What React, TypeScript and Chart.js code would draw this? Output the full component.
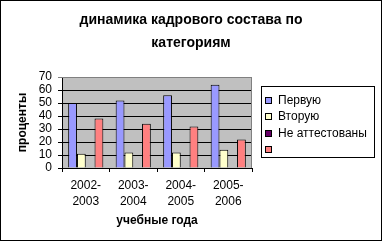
import React, { useEffect, useRef } from "react";
import { Chart, registerables } from "chart.js";

Chart.register(...registerables);

const categories: string[][] = [
  ["2002-", "2003"],
  ["2003-", "2004"],
  ["2004-", "2005"],
  ["2005-", "2006"],
];
const seriesLabels = ["Первую", "Вторую", "Не аттестованы", ""];
const firstCategory = [50, 52, 56, 64];
const secondCategory = [11, 12, 12, 14];
const notCertified = [0, 0, 0, 0];
const fourthSeries = [38, 34, 32, 22];
const seriesColors = ["#9999FF", "#FFFFCC", "#660066", "#FF8080"];
const titleLines = ["динамика кадрового состава по", "категориям"];
const yAxisTitle = "проценты";
const xAxisTitle = "учебные года";
const yMin = 0;
const yMax = 70;
const yStep = 10;

const FONT = "'Liberation Sans', Arial, sans-serif";

const gridColorFor = (value: number) => (value === yMax ? "#808080" : "#000000");

const decorPlugin = {
  id: "decor",
  beforeDraw(chart: any) {
    const { ctx, chartArea, width, height } = chart;
    ctx.save();
    ctx.fillStyle = "#FFFFFF";
    ctx.fillRect(0, 0, width, height);
    ctx.fillStyle = "#C0C0C0";
    ctx.fillRect(
      chartArea.left,
      chartArea.top,
      chartArea.right - chartArea.left,
      chartArea.bottom - chartArea.top
    );
    ctx.restore();
  },
  beforeDatasetsDraw(chart: any) {
    // reinforce horizontal gridlines at the y scale's own tick positions
    const { ctx, chartArea } = chart;
    const ys = chart.scales.y;
    ctx.save();
    ctx.lineWidth = 1;
    ys.ticks.forEach((t: any) => {
      const py = Math.round(ys.getPixelForValue(t.value) - 0.5) + 0.5;
      ctx.strokeStyle = gridColorFor(t.value);
      ctx.beginPath();
      ctx.moveTo(chartArea.left, py);
      ctx.lineTo(chartArea.right, py);
      ctx.stroke();
    });
    ctx.strokeStyle = "#808080";
    ctx.beginPath();
    ctx.moveTo(Math.round(chartArea.right) - 0.5, chartArea.top);
    ctx.lineTo(Math.round(chartArea.right) - 0.5, chartArea.bottom);
    ctx.stroke();
    ctx.restore();
  },
  afterDraw(chart: any) {
    const { ctx, chartArea, width, height } = chart;
    ctx.save();
    const lx = Math.round(chartArea.right) + 9;
    const ly = 86;
    const lw = 113;
    const lh = 71;
    ctx.fillStyle = "#FFFFFF";
    ctx.fillRect(lx, ly, lw, lh);
    ctx.strokeStyle = "#000000";
    ctx.lineWidth = 1;
    ctx.strokeRect(lx + 0.5, ly + 0.5, lw, lh);
    ctx.font = `12px ${FONT}`;
    ctx.textBaseline = "middle";
    ctx.textAlign = "left";
    chart.data.datasets.forEach((ds: any, i: number) => {
      const cy = ly + 14 + i * 16.5;
      const my = Math.round(cy - 3.5);
      ctx.fillStyle = ds.backgroundColor;
      ctx.fillRect(lx + 4, my, 7, 7);
      ctx.strokeStyle = "#000000";
      ctx.strokeRect(lx + 4.5, my + 0.5, 6, 6);
      ctx.fillStyle = "#000000";
      ctx.fillText(ds.label, lx + 17, cy + 0.5);
    });
    ctx.strokeStyle = "#000000";
    ctx.strokeRect(0.5, 0.5, width - 1, height - 1);
    ctx.restore();
  },
};

export default function App() {
  const canvasRef = useRef<HTMLCanvasElement | null>(null);

  useEffect(() => {
    document.body.style.margin = "0";
    const canvas = canvasRef.current;
    if (!canvas) return;
    const seriesData = [firstCategory, secondCategory, notCertified, fourthSeries];
    const chart = new Chart(canvas, {
      type: "bar",
      data: {
        labels: categories,
        datasets: seriesLabels.map((label, i) => ({
          label,
          data: seriesData[i],
          backgroundColor: seriesColors[i],
          borderColor: "#000000",
          borderWidth: 1,
          barPercentage: 1,
          categoryPercentage: 0.74,
          yAxisID: "y",
        })),
      },
      options: {
        animation: false,
        responsive: false,
        devicePixelRatio: 1,
        layout: { padding: 0 },
        plugins: {
          legend: { display: false },
          tooltip: { enabled: false },
          title: {
            display: true,
            text: titleLines,
            color: "#000000",
            font: { family: FONT, size: 14, weight: "bold", lineHeight: "23px" },
            padding: { top: 9, bottom: 22 },
          },
        },
        scales: {
          x: {
            grid: {
              display: true,
              drawOnChartArea: false,
              drawTicks: true,
              tickLength: 4,
              color: "#000000",
              offset: true,
            },
            border: { display: true, color: "#000000", width: 1 },
            ticks: {
              color: "#000000",
              font: { family: FONT, size: 12, lineHeight: "16px" },
              padding: 6,
              maxRotation: 0,
              autoSkip: false,
            },
            title: {
              display: true,
              text: xAxisTitle,
              color: "#000000",
              font: { family: FONT, size: 12, weight: "bold" },
              padding: { top: 0, bottom: 13 },
            },
            afterFit(scale: any) {
              scale.height = 73;
            },
          },
          y: {
            min: yMin,
            max: yMax,
            grid: {
              display: true,
              drawOnChartArea: true,
              lineWidth: 1,
              color: (c: any) => (c.tick ? gridColorFor(c.tick.value) : "#000000"),
              tickLength: 4,
              drawTicks: true,
            },
            border: { display: true, color: "#000000", width: 1 },
            ticks: {
              stepSize: yStep,
              autoSkip: false,
              color: "#000000",
              font: { family: FONT, size: 12, lineHeight: "10px" },
              padding: 6,
            },
            title: {
              display: true,
              text: yAxisTitle,
              color: "#000000",
              font: { family: FONT, size: 12, weight: "bold" },
              padding: { top: 15, bottom: 0 },
            },
            afterFit(scale: any) {
              scale.width = 62;
            },
          },
          legendSpace: {
            type: "linear",
            position: "right",
            display: true,
            grid: { display: false },
            border: { display: false },
            ticks: { display: false },
            afterFit(scale: any) {
              scale.width = 130;
            },
          },
        },
      },
      plugins: [decorPlugin],
    });
    return () => chart.destroy();
  }, []);

  return (
    <div style={{ width: 382, height: 241 }}>
      <canvas ref={canvasRef} width={382} height={241} style={{ display: "block" }} />
    </div>
  );
}
